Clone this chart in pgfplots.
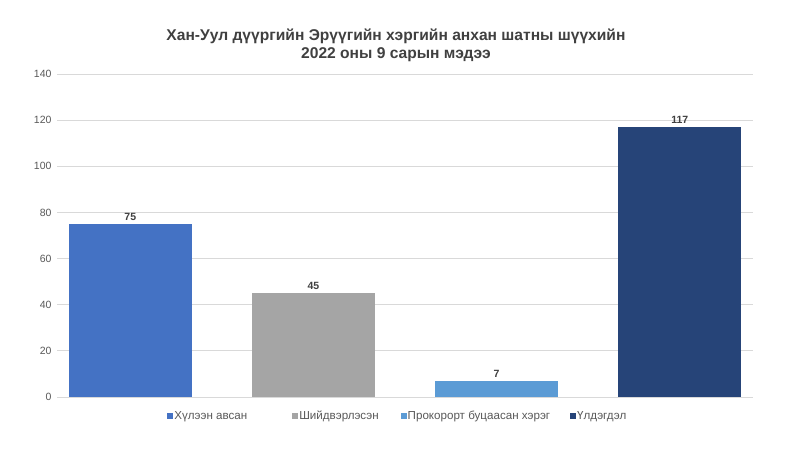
\documentclass[border=0pt]{standalone}
\usepackage{pgfplots}
\pgfplotsset{compat=1.18}
\usepackage{fontspec}
\setmainfont{Liberation Sans}
\definecolor{c1}{HTML}{4472C4}
\definecolor{c2}{HTML}{A5A5A5}
\definecolor{c3}{HTML}{5B9BD5}
\definecolor{c4}{HTML}{264478}
\definecolor{txt}{HTML}{595959}
\definecolor{ttl}{HTML}{404040}
\definecolor{grd}{HTML}{D9D9D9}
\begin{document}
\begin{tikzpicture}
\path[use as bounding box, fill=white] (0pt,0pt) rectangle (800pt,450pt);
\node[font=\fontsize{15.6}{18}\selectfont\bfseries, text=ttl, align=center] at (396pt,405pt) {Хан-Уул дүүргийн Эрүүгийн хэргийн анхан шатны шүүхийн\\2022 оны 9 сарын мэдээ};
\begin{axis}[
  at={(57pt,53pt)}, anchor=origin,
  scale only axis, width=696pt, height=323pt,
  ymin=0, ymax=140, ytick={0,20,...,140},
  xmin=0, xmax=3.8, xtick=\empty,
  axis line style={draw=none},
  major tick length=0pt,
  ymajorgrids, grid style={grd, line width=0.8pt},
  tick label style={font=\fontsize{10.5}{12}\selectfont, text=txt},
  /pgf/number format/assume math mode=true,
  yticklabel style={xshift=-2pt},
  ybar, bar width=123pt, bar shift=0pt,
  nodes near coords,
  every node near coord/.append style={font=\fontsize{10.5}{12}\selectfont\bfseries, text=ttl, yshift=0pt},
  legend columns=4,
  legend style={draw=none, at={(0.489,-0.03)}, anchor=north, font=\fontsize{11.6}{13}\selectfont, text=txt,
    /tikz/every odd column/.append style={column sep=0pt},
    /tikz/column 2/.style={column sep=44pt},
    /tikz/column 4/.style={column sep=21pt},
    /tikz/column 6/.style={column sep=19pt},
    nodes={inner xsep=1pt}},
  legend image code/.code={\fill[#1] (0pt,-3pt) rectangle (6pt,3pt);},
]
\addplot[fill=c1, draw=none] coordinates {(0.4,75)};
\addplot[fill=c2, draw=none] coordinates {(1.4,45)};
\addplot[fill=c3, draw=none] coordinates {(2.4,7)};
\addplot[fill=c4, draw=none] coordinates {(3.4,117)};
\legend{Хүлээн авсан, Шийдвэрлэсэн, Прокорорт буцаасан хэрэг, Үлдэгдэл}
\end{axis}
\end{tikzpicture}
\end{document}
